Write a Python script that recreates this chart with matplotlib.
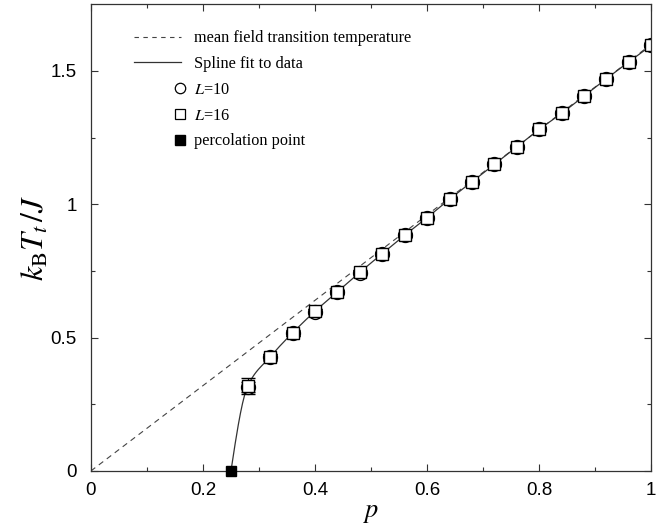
import numpy as np
import matplotlib
matplotlib.use("Agg")
import matplotlib.pyplot as plt
from matplotlib.lines import Line2D
from matplotlib.legend_handler import HandlerBase

# ---- data ----
p_vals = [0.28, 0.32, 0.36, 0.40, 0.44, 0.48, 0.52, 0.56, 0.60, 0.64,
          0.68, 0.72, 0.76, 0.80, 0.84, 0.88, 0.92, 0.96, 1.00]
T_L16 = [0.319, 0.428, 0.518, 0.599, 0.672, 0.745, 0.815, 0.884, 0.950, 1.019,
         1.084, 1.150, 1.215, 1.281, 1.341, 1.406, 1.471, 1.534, 1.596]
T_L10 = [0.315, 0.426, 0.516, 0.598, 0.671, 0.744, 0.814, 0.883, 0.950, 1.019,
         1.084, 1.150, 1.215, 1.281, 1.341, 1.406, 1.471, 1.534, 1.596]
err_L16 = [0.030, 0.012, 0.010, 0.008, 0.008, 0.007, 0.007, 0.007, 0.007, 0.007,
           0.007, 0.007, 0.007, 0.007, 0.007, 0.007, 0.007, 0.007, 0.007]
err_L10 = [0.020, 0.012, 0.010, 0.008, 0.008, 0.007, 0.007, 0.007, 0.007, 0.007,
           0.007, 0.007, 0.007, 0.007, 0.007, 0.007, 0.007, 0.007, 0.007]
p_perc = 0.25
T_perc = 0.0
mf_slope = 1.6  # mean field: T = 1.6 p
mf_p = [0.0, 1.0]

xticks = [0, 0.2, 0.4, 0.6, 0.8, 1.0]
xticklabels = ["0", "0.2", "0.4", "0.6", "0.8", "1"]
yticks = [0, 0.5, 1.0, 1.5]
yticklabels = ["0", "0.5", "1", "1.5"]


def pchip(x, y, xn):
    x = np.asarray(x, float); y = np.asarray(y, float)
    h = np.diff(x); d = np.diff(y) / h
    n = len(x); m = np.zeros(n)
    for k in range(1, n - 1):
        if d[k - 1] * d[k] > 0:
            w1 = 2 * h[k] + h[k - 1]; w2 = h[k] + 2 * h[k - 1]
            m[k] = (w1 + w2) / (w1 / d[k - 1] + w2 / d[k])
    m[0] = ((2 * h[0] + h[1]) * d[0] - h[0] * d[1]) / (h[0] + h[1])
    if np.sign(m[0]) != np.sign(d[0]):
        m[0] = 0
    elif np.sign(d[0]) != np.sign(d[1]) and abs(m[0]) > abs(3 * d[0]):
        m[0] = 3 * d[0]
    m[-1] = ((2 * h[-1] + h[-2]) * d[-1] - h[-1] * d[-2]) / (h[-1] + h[-2])
    if np.sign(m[-1]) != np.sign(d[-1]):
        m[-1] = 0
    idx = np.clip(np.searchsorted(x, xn) - 1, 0, n - 2)
    t = (xn - x[idx]) / h[idx]
    h00 = 2 * t**3 - 3 * t**2 + 1; h10 = t**3 - 2 * t**2 + t
    h01 = -2 * t**3 + 3 * t**2; h11 = t**3 - t**2
    return (h00 * y[idx] + h10 * h[idx] * m[idx] + h01 * y[idx + 1]
            + h11 * h[idx] * m[idx + 1])


plt.rcParams['mathtext.fontset'] = 'stix'
fig = plt.figure(figsize=(6.68, 5.31), dpi=100)
ax = fig.add_axes([0.136, 0.113, 0.839, 0.879])

# mean field
ax.plot(mf_p, [mf_slope * v for v in mf_p], ls=(0, (5, 4)), color='#444444',
        lw=0.8, label='mean field transition temperature')

# spline fit
xs = [p_perc] + p_vals
ys = [T_perc] + T_L16
xf = np.linspace(p_perc, 1.0, 400)
ax.plot(xf, pchip(xs, ys, xf), color='#333333', lw=0.9, label='Spline fit to data')

ax.errorbar(p_vals, T_L10, yerr=err_L10, fmt='o', ms=10, mfc='white', mec='black',
            mew=1.0, ecolor='black', elinewidth=0.8, capsize=5, label='L10')
ax.errorbar(p_vals, T_L16, yerr=err_L16, fmt='s', ms=8.6, mfc='white', mec='black',
            mew=1.0, ecolor='black', elinewidth=0.8, capsize=5, label='L16')
ax.plot([p_perc], [T_perc], 's', ms=7.5, color='black', clip_on=False, zorder=5)

ax.set_xlim(0, 1)
ax.set_ylim(0, 1.75)
ax.set_xticks(xticks)
ax.set_xticklabels(xticklabels)
ax.set_yticks(yticks)
ax.set_yticklabels(yticklabels)
ax.set_xticks(np.arange(0.1, 1.0, 0.2), minor=True)
ax.set_yticks([0.25, 0.75, 1.25], minor=True)
ax.tick_params(which='both', direction='in', top=True, right=True, color='#333333',
               width=0.8, labelsize=13.5)
ax.tick_params(axis='x', which='both', pad=8)
ax.tick_params(axis='y', which='both', pad=10)
ax.tick_params(which='major', length=5)
ax.tick_params(which='minor', length=3)
for lab in ax.get_xticklabels() + ax.get_yticklabels():
    lab.set_family('Liberation Sans')
for s in ax.spines.values():
    s.set_linewidth(0.9)
    s.set_color('#333333')

ax.set_xlabel(r'$p$', fontsize=19, labelpad=0)
ax.set_ylabel(r'$k_{\mathrm{B}}T_t\,/J$', fontsize=23, labelpad=0)


class RightMarker(HandlerBase):
    def create_artists(self, legend, orig_handle, xdescent, ydescent, width,
                       height, fontsize, trans):
        m = Line2D([width - xdescent - 1], [height / 2 - ydescent])
        self.update_prop(m, orig_handle, legend)
        m.set_linestyle('none')
        m.set_transform(trans)
        return [m]


h_mf = Line2D([], [], ls=(0, (4, 4)), color='#444444', lw=0.8)
h_sp = Line2D([], [], color='#333333', lw=0.9)
h_10 = Line2D([], [], marker='o', ms=7.5, mfc='white', mec='black', mew=0.9, ls='none')
h_16 = Line2D([], [], marker='s', ms=7, mfc='white', mec='black', mew=0.9, ls='none')
h_pc = Line2D([], [], marker='s', ms=7.5, color='black', ls='none')
rm = RightMarker()
leg = ax.legend([h_mf, h_sp, h_10, h_16, h_pc],
                ['mean field transition temperature', 'Spline fit to data',
                 r'$L$=10', r'$L$=16', 'percolation point'],
                loc='upper left', bbox_to_anchor=(0.054, 0.972), frameon=False,
                prop={'family': 'Liberation Serif', 'size': 11.7},
                handlelength=2.9, handletextpad=0.8, labelspacing=0.6,
                borderpad=0.3,
                handler_map={h_10: rm, h_16: rm, h_pc: rm})

fig.savefig('out.png', dpi=100)
